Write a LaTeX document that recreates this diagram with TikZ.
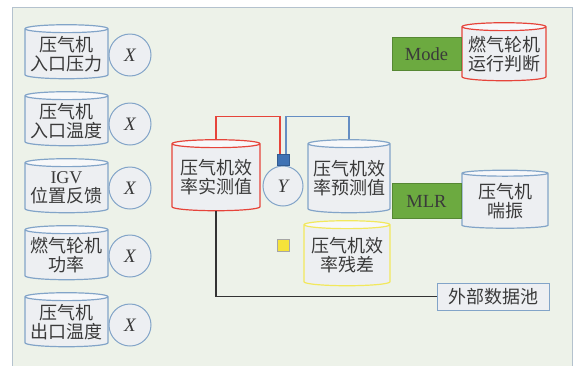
\documentclass[tikz,border=0pt]{standalone}
\usepackage{fontspec}
\setmainfont{Liberation Serif}
\newfontfamily\cjk{Noto Sans CJK SC}
\usetikzlibrary{shapes.geometric,positioning}

\definecolor{panelfill}{HTML}{EDF2E9}
\definecolor{paneldraw}{HTML}{B4C2CE}
\definecolor{cylbody}{HTML}{EDEFF2}
\definecolor{cyltop}{HTML}{F7F8FA}
\definecolor{cylblue}{HTML}{82A4C8}
\definecolor{cylred}{HTML}{E6443A}
\definecolor{cylyellow}{HTML}{F2E85C}
\definecolor{boxgreen}{HTML}{6CAA40}
\definecolor{inkgray}{HTML}{3A3A3A}
\definecolor{sqblue}{HTML}{3F72B4}
\definecolor{sqyellow}{HTML}{F5E33A}

\tikzset{
  cyl/.style={cylinder, shape border rotate=90, aspect=0.11, draw=cylblue,
    line width=1.2pt, cylinder uses custom fill, cylinder body fill=cylbody,
    cylinder end fill=cyltop, align=center, inner sep=0pt,
    text=inkgray, font=\cjk\fontsize{18}{19}\selectfont},
  var/.style={circle, draw=cylblue, fill=cylbody, line width=1pt,
    minimum size=42pt, inner sep=0pt, text=inkgray,
    font=\fontsize{19}{19}\selectfont\itshape},
  tag/.style={rectangle, draw=boxgreen!80!black, fill=boxgreen, line width=0.8pt,
    inner sep=0pt, text=inkgray, font=\fontsize{18.5}{18}\selectfont},
  mark box/.style={rectangle, draw=gray!70, line width=0.6pt, inner sep=0pt,
    minimum width=12pt, minimum height=11pt},
}

\begin{document}
\begin{tikzpicture}[x=1pt,y=-1pt]
  \useasboundingbox (0,0) rectangle (574,365);
  % panel
  \fill[white] (0,0) rectangle (574,365);
  \draw[paneldraw, fill=panelfill, line width=1pt] (12,7) rectangle (572,370);

  % input variables
  \node[cyl, minimum width=83pt, minimum height=54pt] (in1) at (66.5,54) {压气机\\入口压力};
  \node[cyl, minimum width=83pt, minimum height=54pt] (in2) at (66.5,121) {压气机\\入口温度};
  \node[cyl, minimum width=83pt, minimum height=54pt] (in3) at (66.5,188) {{\rmfamily IGV}\\位置反馈};
  \node[cyl, minimum width=83pt, minimum height=54pt] (in4) at (66.5,255) {燃气轮机\\功率};
  \node[cyl, minimum width=83pt, minimum height=54pt] (in5) at (66.5,322) {压气机\\出口温度};
  \foreach \i/\y in {1/55,2/124,3/188,4/256,5/325}
    \node[var] (x\i) at (130,\y) {X};

  % efficiency
  \node[cyl, draw=cylred, minimum width=88pt, minimum height=71pt] (meas) at (216,177.5) {压气机效\\率实测值};
  \node[var, minimum size=40pt] (y) at (283,186) {Y};
  \node[mark box, fill=sqblue, draw=sqblue!80!black, above=0pt of y] (ysq) {};
  \node[cyl, minimum width=82pt, minimum height=73pt] (pred) at (349,178.5) {压气机效\\率预测值};
  \node[mark box, fill=sqyellow, minimum height=12pt] (ysqr) at (283,245) {};
  \node[cyl, draw=cylyellow, minimum width=86pt, minimum height=65pt] (resid) at (347,255.5) {压气机效\\率残差};

  % models
  \node[cyl, draw=cylred, minimum width=84pt, minimum height=58pt] (judge) at (504,54) {燃气轮机\\运行判断};
  \node[tag, minimum width=69pt, minimum height=33pt, left=0pt of judge.west] (mode) {Mode};
  \node[cyl, minimum width=86pt, minimum height=58pt] (surge) at (505,201) {压气机\\喘振};
  \node[tag, minimum width=69pt, minimum height=35pt, left=0pt of surge.west] (mlr) {MLR};

  % data pool
  \node[rectangle, draw=cylblue, fill=cylbody, line width=1pt, minimum width=112pt,
    minimum height=27pt, inner sep=0pt, text=inkgray,
    font=\cjk\fontsize{18}{18}\selectfont] (pool) at (493,296.5) {外部数据池};

  % links
  \draw[cylred, line width=1.2pt] (meas.north) -- ++(0,-23) -| ([xshift=-3pt]ysq.north);
  \draw[sqblue!80, line width=1.2pt] (pred.north) -- ++(0,-23) -| ([xshift=3pt]ysq.north);
  \draw[black!80, line width=1.2pt] (meas.south) |- (pool.west);
\end{tikzpicture}
\end{document}
